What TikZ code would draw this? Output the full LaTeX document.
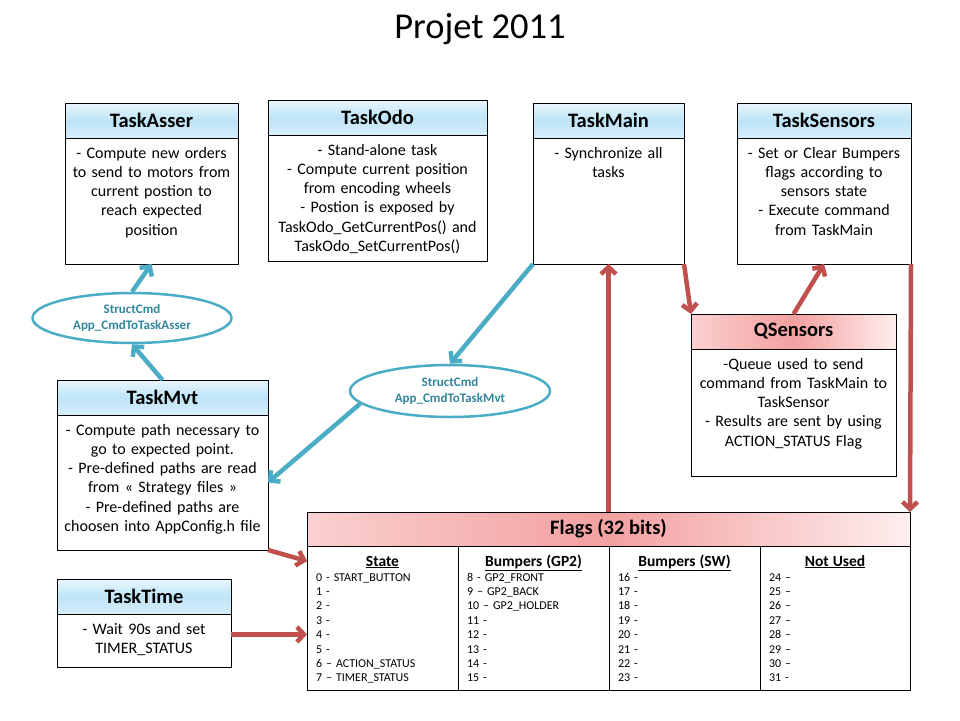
\documentclass[tikz,border=0pt]{standalone}
\usepackage{fontspec}
\setmainfont{Carlito}
\usepackage{tikz}
\usetikzlibrary{arrows.meta,positioning,shapes.geometric}

\definecolor{accblue}{RGB}{75,172,198}
\definecolor{acctxt}{RGB}{49,133,156}
\definecolor{accred}{RGB}{192,80,77}
\definecolor{hdbluetop}{RGB}{232,246,253}
\definecolor{hdbluemid}{RGB}{190,228,248}
\definecolor{hdbluebot}{RGB}{214,238,251}
\definecolor{hdredleft}{RGB}{250,208,208}
\definecolor{hdredmid}{RGB}{243,160,160}
\definecolor{hdredright}{RGB}{254,238,238}

\newcommand\titlefont{\fontsize{36.5}{40}\selectfont}
\newcommand\hdfont{\fontsize{20.5}{24}\selectfont\bfseries}
\newcommand\txtfont{\fontsize{16}{19.3}\selectfont}
\newcommand\cmdfont{\fontsize{13}{16.5}\selectfont\bfseries}
\newcommand\bitfont{\fontsize{12}{14.4}\selectfont}
\newcommand\colfont{\fontsize{15.5}{18}\selectfont\bfseries}
\newcommand\coltitle[1]{\makebox[\linewidth]{\colfont\underline{#1}}}

\tikzstyle{hdblue} = [draw, line width=1pt, outer sep=0pt, inner sep=0pt, minimum height=35pt, font=\hdfont, top color=hdbluetop, bottom color=hdbluebot, middle color=hdbluemid]
\tikzstyle{hdred} = [draw, line width=1pt, outer sep=0pt, inner sep=0pt, minimum height=35pt, font=\hdfont, left color=hdredleft, right color=hdredright, middle color=hdredmid]
\tikzstyle{body} = [draw, line width=1pt, fill=white, outer sep=0pt, inner xsep=2pt, inner ysep=6pt, text height=14pt, align=center, font=\txtfont]
\tikzstyle{bitcol} = [draw, line width=1pt, outer sep=0pt, inner xsep=9pt, inner ysep=0pt, text width=133pt, text height=20pt, text depth=124pt, align=left, font=\bitfont, anchor=north west]
\tikzstyle{cmd} = [ellipse, draw=accblue, line width=2.5pt, fill=white, inner sep=0pt, text=acctxt, font=\cmdfont, align=center]
\tikzstyle{ab} = [draw=accblue, line width=4.5pt, -{Straight Barb[length=7pt,width=15pt]}]
\tikzstyle{ar} = [draw=accred, line width=4.5pt, -{Straight Barb[length=7pt,width=15pt]}]

\begin{document}
\begin{tikzpicture}[x=1pt,y=-1pt]
	\useasboundingbox (0,0) rectangle (960,720);
	\node[font=\titlefont, anchor=base] (title) at (480,38) {Projet 2011};

	% tasks
	\node[hdblue, minimum width=173pt, anchor=north west] (asserhd) at (65,103) {TaskAsser};
	\node[body, below=0pt of asserhd, text width=169pt, text depth=100pt] (asserbd) {- Compute new orders\\to send to motors from\\current postion to\\reach expected\\position};
	\node[hdblue, minimum width=219pt, anchor=north west] (odohd) at (268,100) {TaskOdo};
	\node[body, below=0pt of odohd, text width=215pt, text depth=100pt] (odobd) {- Stand-alone task\\- Compute current position\\from encoding wheels\\- Postion is exposed by\\TaskOdo\_GetCurrentPos() and\\TaskOdo\_SetCurrentPos()};
	\node[hdblue, minimum width=151pt, anchor=north west] (mainhd) at (533,103) {TaskMain};
	\node[body, below=0pt of mainhd, text width=147pt, text depth=100pt] (mainbd) {- Synchronize all\\tasks};
	\node[hdblue, minimum width=174pt, anchor=north west] (senshd) at (737,103) {TaskSensors};
	\node[body, below=0pt of senshd, text width=170pt, text depth=100pt] (sensbd) {- Set or Clear Bumpers\\flags according to\\sensors state\\- Execute command\\from TaskMain};
	\node[hdblue, minimum width=211pt, anchor=north west] (mvthd) at (57,380) {TaskMvt};
	\node[body, below=0pt of mvthd, text width=207pt, text depth=109pt] (mvtbd) {- Compute path necessary to\\go to expected point.\\- Pre-defined paths are read\\from « Strategy files »\\- Pre-defined paths are\\choosen into AppConfig.h file};
	\node[hdblue, minimum width=174pt, anchor=north west] (timehd) at (57,579) {TaskTime};
	\node[body, below=0pt of timehd, text width=170pt, text depth=27pt] (timebd) {- Wait 90s and set\\TIMER\_STATUS};

	% queue
	\node[hdred, minimum width=205pt, anchor=north west] (qsenshd) at (691,314) {QSensors};
	\node[body, below=0pt of qsenshd, text width=201pt, text depth=101pt] (qsensbd) {-Queue used to send\\command from TaskMain to\\TaskSensor\\- Results are sent by using\\ACTION\_STATUS Flag};

	% messages
	\node[cmd, minimum width=199pt, minimum height=50pt] (asserq) at (132,318) {StructCmd\\App\_CmdToTaskAsser};
	\node[cmd, minimum width=200pt, minimum height=52pt] (mvtq) at (450,391) {StructCmd\\App\_CmdToTaskMvt};

	% flags table
	\node[hdred, minimum width=603pt, minimum height=34pt, anchor=north west] (flagshd) at (307,512) {Flags (32 bits)};
	\node[bitcol] (colst) at (flagshd.south west) {\coltitle{State}\\[0.6pt]
		0 - START\_BUTTON\\1 -\\2 -\\3 -\\4 -\\5 -\\6 – ACTION\_STATUS\\7 – TIMER\_STATUS};
	\node[bitcol, right=0pt of colst] (colgp) {\coltitle{Bumpers (GP2)}\\[0.6pt]
		8 - GP2\_FRONT\\9 – GP2\_BACK\\10 – GP2\_HOLDER\\11 -\\12 -\\13 -\\14 -\\15 -};
	\node[bitcol, right=0pt of colgp] (colsw) {\coltitle{Bumpers (SW)}\\[0.6pt]
		16 -\\17 -\\18 -\\19 -\\20 -\\21 -\\22 -\\23 -};
	\node[bitcol, right=0pt of colsw, text width=132pt] (colnu) {\coltitle{Not Used}\\[0.6pt]
		24 –\\25 –\\26 –\\27 –\\28 –\\29 –\\30 –\\31 -};

	% commands
	\draw[ab] (mvthd.north) -- (asserq.south);
	\draw[ab] (asserq.north) -- (asserbd.south);
	\draw[ab] (mainbd.south west) -- (mvtq.north);
	\draw[ab] (mvtq.188) -- (mvtbd.east);

	% flags and queue
	\draw[ar] (flagshd.north) -- (mainbd.south);
	\draw[ar] (mainbd.south east) -- (qsenshd.north west);
	\draw[ar] (qsenshd.north) -- (sensbd.south);
	\draw[ar] (sensbd.south east) -- (flagshd.north east);
	\draw[ar] (mvtbd.south east) -- (colst.143);
	\draw[ar] (timebd.4) -- (timebd.4 -| colst.west);
\end{tikzpicture}
\end{document}
